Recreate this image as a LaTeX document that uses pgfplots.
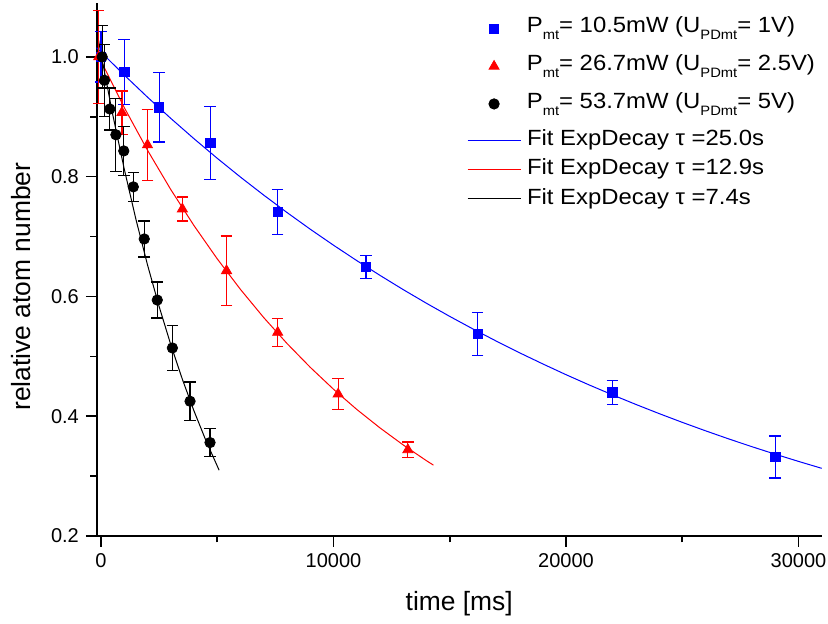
\documentclass[border=0pt]{standalone}
\usepackage{fontspec}
\setmainfont{Liberation Sans}
\newfontfamily\legfont[FakeStretch=1.085]{Liberation Sans}
\usepackage{pgfplots}
\usepackage{pgfplotstable}
\pgfplotsset{compat=1.18}

\pgfplotstableread{
x y e
0 1.000 0.042
1000 0.975 0.054
2500 0.916 0.058
4700 0.856 0.061
7600 0.741 0.037
11400 0.649 0.019
16200 0.537 0.036
22000 0.440 0.020
29000 0.332 0.035
}\tblue
\pgfplotstableread{
x y e
-100 1.000 0.078
900 0.907 0.036
2000 0.853 0.059
3500 0.746 0.020
5400 0.643 0.058
7600 0.540 0.023
10200 0.437 0.026
13200 0.344 0.013
}\tred
\pgfplotstableread{
x y e
50 1.000 0.052
150 0.961 0.060
380 0.913 0.035
640 0.870 0.061
980 0.843 0.041
1390 0.783 0.024
1860 0.696 0.030
2420 0.594 0.030
3070 0.514 0.038
3830 0.425 0.032
4690 0.356 0.023
}\tblack
\pgfplotstableread{
x y
-185 1.0153
0 1.008
1000 0.9697
2000 0.9328
3000 0.8974
4000 0.8634
5000 0.8307
6000 0.7993
7000 0.7692
8000 0.7402
9000 0.7123
10000 0.6856
11000 0.6599
12000 0.6352
13000 0.6114
14000 0.5886
15000 0.5667
16000 0.5457
17000 0.5255
18000 0.5060
19000 0.4874
20000 0.4694
21000 0.4522
22000 0.4357
23000 0.4198
24000 0.4045
25000 0.3898
26000 0.3757
27000 0.3621
28000 0.3491
29000 0.3366
30000 0.3246
31000 0.3130
}\fblue
\pgfplotstableread{
x y
-185 1.008
0 0.9930
1000 0.9155
2000 0.8442
3000 0.7786
4000 0.7183
5000 0.6628
6000 0.6117
7000 0.5647
8000 0.5215
9000 0.4817
10000 0.4451
11000 0.4114
12000 0.3805
13000 0.3520
14000 0.3257
14300 0.3183
}\fred
\pgfplotstableread{
x y
-185 1.0446
0 1.005
500 0.9045
1000 0.8128
1500 0.7292
2000 0.6528
2500 0.5832
3000 0.5197
3500 0.4617
4000 0.4088
4500 0.3606
5080 0.3099
}\fblack

\newcommand{\sbs}[1]{\raisebox{-3.5pt}{\fontsize{6.8pt}{7pt}\selectfont #1}}

\pgfplotsset{
  base/.style={
    at={(0,0)}, anchor=south west,
    scale only axis, width=362.5pt, height=266.5pt,
    xmin=-185, xmax=31000, ymin=0.2, ymax=1.09,
    clip=false,
    legend cell align=left,
    legend image code/.code={\draw[mark repeat=2,mark phase=2,##1] plot coordinates {(0pt,0pt) (13.3pt,0pt) (26.6pt,0pt)};},
  },
}

\begin{document}
\begin{tikzpicture}
\useasboundingbox (-48.35pt,-44pt) rectangle (365.65pt,268pt);
\begin{axis}[
  base,
  axis lines*=left,
  axis line style={line width=1pt},
  tick align=outside,
  major tick length=5.4pt, minor tick length=3.2pt,
  every tick/.style={black, line width=0.8pt},
  xtick={0,10000,20000,30000}, minor xtick={5000,15000,25000},
  ytick={0.2,0.4,0.6,0.8,1.0}, minor ytick={0.3,0.5,0.7,0.9},
  scaled x ticks=false,
  /pgf/number format/assume math mode=true,
  xticklabel style={font=\fontsize{10}{12}\selectfont, /pgf/number format/set thousands separator={}},
  yticklabel style={font=\fontsize{10}{12}\selectfont, /pgf/number format/fixed, /pgf/number format/fixed zerofill, /pgf/number format/precision=1},
  xlabel={time [ms]},
  ylabel={relative atom number},
  label style={font=\fontsize{13.2}{15}\selectfont},
  xlabel style={at={(axis description cs:0.5,-0.1407)}, anchor=base},
  ylabel style={at={(axis description cs:-0.092,0.468)}, anchor=base},
  legend style={at={(axis description cs:0.5103,0.7619)}, anchor=north west, draw=none, fill=none, inner sep=0pt, row sep=4.6pt, column sep=2.9pt, nodes={inner sep=0pt, text height=7.7pt, text depth=2.3pt}, font=\legfont\fontsize{11}{12}\selectfont},
]
\addplot[blue, line width=0.5pt] table[x=x,y=y] {\fblue};
\addlegendentry{Fit ExpDecay τ =25.0s}
\addplot[red, line width=0.5pt] table[x=x,y=y] {\fred};
\addlegendentry{Fit ExpDecay τ =12.9s}
\addplot[black, line width=0.5pt] table[x=x,y=y] {\fblack};
\addlegendentry{Fit ExpDecay τ =7.4s}
\end{axis}
\begin{axis}[
  base,
  hide axis,
  legend style={at={(axis description cs:0.5103,0.9735)}, anchor=north west, draw=none, fill=none, inner sep=0pt, row sep=7.6pt, column sep=2.9pt, nodes={inner sep=0pt, text height=7.7pt, text depth=3.5pt}, font=\legfont\fontsize{11}{12}\selectfont},
]
\addlegendimage{blue, mark=square*, mark size=2.35pt, draw opacity=0, mark options={draw opacity=1, fill opacity=1}}
\addlegendentry{P\sbs{mt}= 10.5mW (U\sbs{PDmt}= 1V)}
\addlegendimage{red, mark=triangle*, mark size=2.9pt, draw opacity=0, mark options={draw opacity=1, fill opacity=1}}
\addlegendentry{P\sbs{mt}= 26.7mW (U\sbs{PDmt}= 2.5V)}
\addlegendimage{black, mark=*, mark size=2.6pt, draw opacity=0, mark options={draw opacity=1, fill opacity=1}}
\addlegendentry{P\sbs{mt}= 53.7mW (U\sbs{PDmt}= 5V)}
\addplot[only marks, forget plot, mark=square*, blue, mark size=2.35pt,
  error bars/.cd, y dir=both, y explicit,
  error bar style={line width=0.6pt, blue},
  error mark options={rotate=90, line width=0.6pt, mark size=2.9pt, blue}]
  table[x=x,y=y,y error=e] {\tblue};
\addplot[only marks, forget plot, mark=triangle*, red, mark size=2.9pt,
  error bars/.cd, y dir=both, y explicit,
  error bar style={line width=0.6pt, red},
  error mark options={rotate=90, line width=0.6pt, mark size=2.9pt, red}]
  table[x=x,y=y,y error=e] {\tred};
\addplot[only marks, forget plot, mark=*, black, mark size=2.6pt,
  error bars/.cd, y dir=both, y explicit,
  error bar style={line width=0.6pt, black},
  error mark options={rotate=90, line width=0.6pt, mark size=2.9pt, black}]
  table[x=x,y=y,y error=e] {\tblack};
\end{axis}
\end{tikzpicture}
\end{document}
